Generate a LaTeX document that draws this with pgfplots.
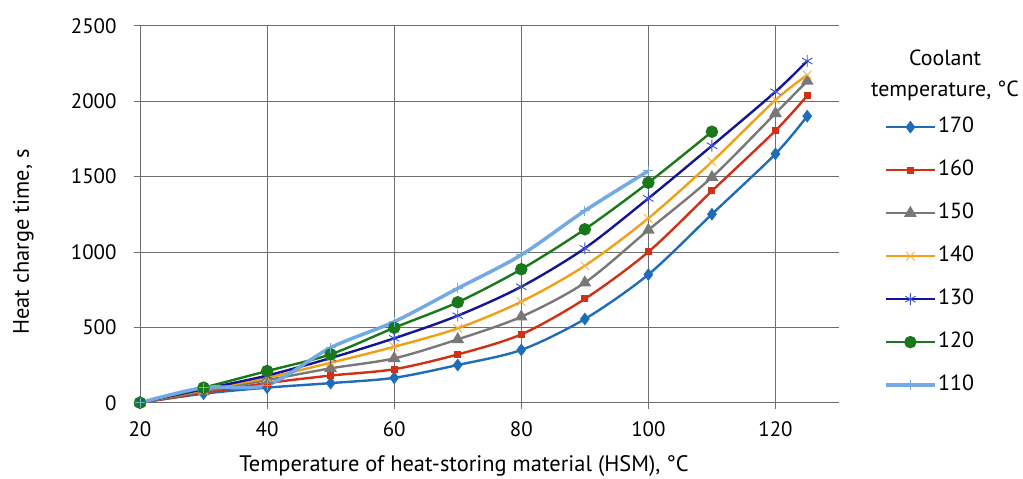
\documentclass[border=0pt]{standalone}
\usepackage{pgfplots}
\pgfplotsset{compat=1.18}
\usepackage{fontspec}
\setmainfont{PT Sans}
\definecolor{c170}{RGB}{31,108,185}
\definecolor{c160}{RGB}{208,48,20}
\definecolor{c150}{RGB}{120,120,120}
\definecolor{c140}{RGB}{240,160,20}
\definecolor{c130}{RGB}{20,20,150}
\definecolor{m130}{RGB}{60,80,210}
\definecolor{c120}{RGB}{25,120,25}
\definecolor{c110}{RGB}{115,170,228}
\definecolor{gridc}{RGB}{110,110,110}
\begin{document}
\begin{tikzpicture}
\useasboundingbox (-140bp,-76.3bp) rectangle (883bp,402.7bp);
\begin{axis}[
  at={(0,0)}, anchor=south west,
  scale only axis, width=699bp, height=377bp,
  xmin=20, xmax=130, ymin=0, ymax=2500,
  xtick={20,40,...,120}, ytick={0,500,...,2500},
  grid=major, major grid style={color=gridc, line width=0.8bp},
  axis line style={draw=none},
  tick align=outside, tick pos=left, major tick length=6bp,
  tick style={color=gridc, line width=0.8bp},
  font=\fontsize{21}{25}\selectfont,
  /pgf/number format/assume math mode=true,
  /pgf/number format/1000 sep={},
  xticklabel style={yshift=-9bp},
  yticklabel style={xshift=-14bp},
  xlabel={Temperature of heat-storing material (HSM), °C},
  ylabel={Heat charge time, s},
  label style={font=\fontsize{22.5}{27}\selectfont},
  xlabel style={at={(axis description cs:0.4635,-0.168)}, anchor=center},
  ylabel style={at={(axis description cs:-0.167,0.426)}, anchor=center},
  clip=false,
  legend style={draw=none, fill=none, inner sep=0pt, row sep=29bp,
    nodes={inner sep=2bp, text height=10bp, text depth=0bp},
    at={(rel axis cs:1.065,0.75)}, anchor=north west,
    font=\fontsize{22}{26}\selectfont},
  legend cell align=left,
  legend image code/.code={\draw[mark repeat=2,mark phase=2,#1] plot coordinates {(0bp,0bp) (24bp,0bp) (48bp,0bp)};},
]
\addplot[c170, line width=2.4bp, smooth, mark=diamond*, mark size=4.5bp, mark options={fill=c170}] coordinates {
 (20,0)(30,60)(40,100)(50,130)(60,165)(70,250)(80,350)(90,555)(100,850)(110,1250)(120,1650)(125,1900)};
\addlegendentry{170}
\addplot[c160, line width=2.4bp, smooth, mark=square*, mark size=2.3bp, mark options={fill=c160}] coordinates {
 (20,0)(30,65)(40,130)(50,180)(60,222)(70,320)(80,453)(90,688)(100,1000)(110,1404)(120,1804)(125,2036)};
\addlegendentry{160}
\addplot[c150, line width=2.4bp, smooth, mark=triangle*, mark size=5bp, mark options={fill=c150}] coordinates {
 (20,0)(30,75)(40,150)(50,228)(60,294)(70,420)(80,570)(90,796)(100,1145)(110,1495)(120,1919)(125,2133)};
\addlegendentry{150}
\addplot[c140, line width=2.4bp, smooth, mark=x, mark size=6bp, mark options={line width=0.9bp, color=c140!80!white}] coordinates {
 (20,0)(30,85)(40,165)(50,265)(60,371)(70,493)(80,670)(90,908)(100,1223)(110,1598)(120,2007)(125,2173)};
\addlegendentry{140}
\addplot[c130, line width=2.4bp, smooth, mark=asterisk, mark size=6bp, mark options={line width=0.9bp, color=m130}] coordinates {
 (20,0)(30,90)(40,180)(50,296)(60,427)(70,577)(80,769)(90,1024)(100,1355)(110,1704)(120,2062)(125,2266)};
\addlegendentry{130}
\addplot[c120, line width=2.4bp, smooth, mark=*, mark size=5bp, mark options={fill=c120}] coordinates {
 (20,0)(30,100)(40,210)(50,321)(60,497)(70,666)(80,885)(90,1150)(100,1459)(110,1797)};
\addlegendentry{120}
\addplot[c110, line width=3.5bp, smooth, mark=+, mark size=5bp, mark options={line width=0.9bp}] coordinates {
 (20,0)(30,100)(40,117)(50,365)(60,537)(70,758)(80,980)(90,1273)(100,1537)};
\addlegendentry{110}
\node[align=center, font=\fontsize{22}{31}\selectfont] at (rel axis cs:1.1517,0.868) {Coolant\\temperature, °C};
\end{axis}
\end{tikzpicture}
\end{document}
